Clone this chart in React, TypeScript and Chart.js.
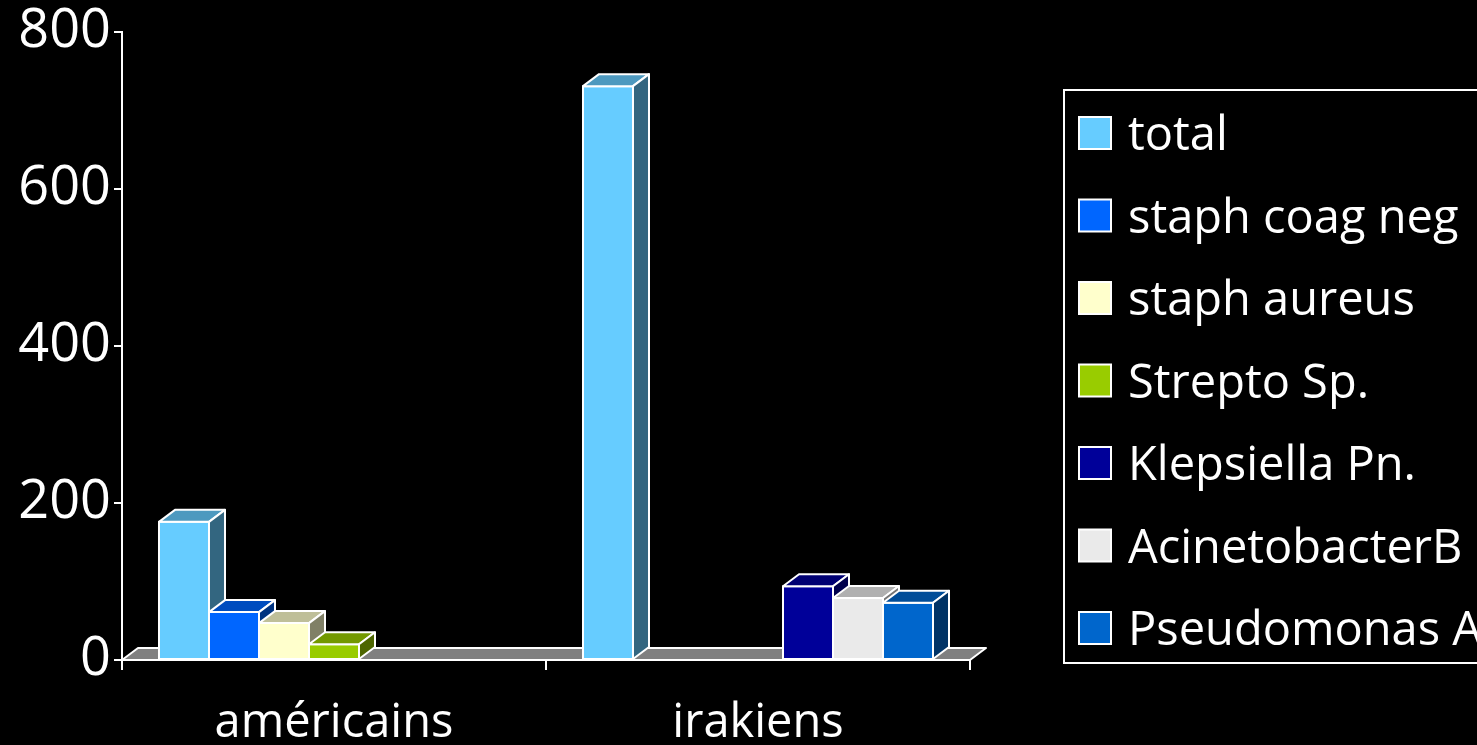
import React, { useEffect, useRef } from 'react';
import { Chart, registerables } from 'chart.js';

Chart.register(...registerables);

const categories = ['américains', 'irakiens'];
const seriesNames = ['total', 'staph coag neg', 'staph aureus', 'Strepto Sp.', 'Klepsiella Pn.', 'AcinetobacterB', 'Pseudomonas A.'];
const totalValues = [176, 731];
const staphCoagNegValues = [61, null];
const staphAureusValues = [47, null];
const streptoValues = [20, null];
const klepsiellaValues = [null, 94];
const acinetobacterValues = [null, 79];
const pseudomonasValues = [null, 73];
const yMax = 800;
const yStep = 200;

const seriesColors = ['#66CCFF', '#0066FF', '#FFFFCC', '#99CC00', '#000099', '#EAEAEA', '#0066CC'];
const seriesValues = [totalValues, staphCoagNegValues, staphAureusValues, streptoValues, klepsiellaValues, acinetobacterValues, pseudomonasValues];

const FONT = "'Open Sans', 'DejaVu Sans', sans-serif";
const DX = 16;
const DY = -12;

function shade(hex: string, f: number): string {
  const n = parseInt(hex.slice(1), 16);
  const r = Math.round(((n >> 16) & 255) * f);
  const g = Math.round(((n >> 8) & 255) * f);
  const b = Math.round((n & 255) * f);
  return `rgb(${r},${g},${b})`;
}

const threeDPlugin = {
  id: 'threeD',
  beforeDatasetsDraw(chart: any) {
    const ctx = chart.ctx as CanvasRenderingContext2D;
    const { left, right, bottom } = chart.chartArea;
    ctx.save();
    ctx.lineWidth = 2;
    ctx.strokeStyle = '#ffffff';
    ctx.lineJoin = 'round';
    // floor
    ctx.beginPath();
    ctx.moveTo(left, bottom);
    ctx.lineTo(left + DX, bottom + DY);
    ctx.lineTo(right + DX, bottom + DY);
    ctx.lineTo(right, bottom);
    ctx.closePath();
    ctx.fillStyle = '#808080';
    ctx.fill();
    ctx.stroke();

    const bars: any[] = [];
    chart.data.datasets.forEach((ds: any, di: number) => {
      const meta = chart.getDatasetMeta(di);
      meta.data.forEach((el: any, i: number) => {
        const v = ds.data[i];
        if (v == null) return;
        const p = el.getProps(['x', 'y', 'base', 'width'], true);
        bars.push({ x0: p.x - p.width / 2, x1: p.x + p.width / 2, top: p.y, base: p.base, color: ds.backgroundColor });
      });
    });
    bars.sort((a, b) => a.x0 - b.x0);
    for (const b of bars) {
      // front
      ctx.beginPath();
      ctx.rect(b.x0, b.top, b.x1 - b.x0, b.base - b.top);
      ctx.fillStyle = b.color;
      ctx.fill();
      ctx.stroke();
      // top
      ctx.beginPath();
      ctx.moveTo(b.x0, b.top);
      ctx.lineTo(b.x0 + DX, b.top + DY);
      ctx.lineTo(b.x1 + DX, b.top + DY);
      ctx.lineTo(b.x1, b.top);
      ctx.closePath();
      ctx.fillStyle = shade(b.color, 0.75);
      ctx.fill();
      ctx.stroke();
      // side
      ctx.beginPath();
      ctx.moveTo(b.x1, b.top);
      ctx.lineTo(b.x1 + DX, b.top + DY);
      ctx.lineTo(b.x1 + DX, b.base + DY);
      ctx.lineTo(b.x1, b.base);
      ctx.closePath();
      ctx.fillStyle = shade(b.color, 0.5);
      ctx.fill();
      ctx.stroke();
    }
    ctx.restore();
    return false;
  },
  afterDraw(chart: any) {
    const ctx = chart.ctx as CanvasRenderingContext2D;
    ctx.save();
    ctx.lineWidth = 2;
    ctx.strokeStyle = '#ffffff';
    ctx.strokeRect(1064, 90, 440, 573);
    ctx.font = `47px ${FONT}`;
    ctx.textBaseline = 'middle';
    ctx.textAlign = 'left';
    chart.data.datasets.forEach((ds: any, i: number) => {
      const cy = 133 + i * 82.5;
      ctx.fillStyle = ds.backgroundColor;
      ctx.fillRect(1079, cy - 16, 32, 32);
      ctx.strokeRect(1079, cy - 16, 32, 32);
      ctx.fillStyle = '#ffffff';
      ctx.fillText(ds.label, 1128, cy + 4);
    });
    ctx.restore();
  },
};

export default function App() {
  const ref = useRef<HTMLCanvasElement>(null);
  useEffect(() => {
    if (!ref.current) return;
    const chart = new Chart(ref.current, {
      type: 'bar',
      data: {
        labels: categories,
        datasets: seriesNames.map((name, i) => ({
          label: name,
          data: seriesValues[i],
          backgroundColor: seriesColors[i],
        })),
      },
      options: {
        animation: false,
        responsive: false,
        maintainAspectRatio: false,
        layout: { padding: { top: 32, right: 507, left: 0, bottom: 0 } },
        datasets: { bar: { categoryPercentage: 0.8255, barPercentage: 1 } },
        plugins: { legend: { display: false }, tooltip: { enabled: false } },
        scales: {
          x: {
            offset: true,
            grid: { offset: true, drawOnChartArea: false, drawTicks: true, tickLength: 10, color: '#ffffff', lineWidth: 2 },
            border: { display: false },
            ticks: { color: '#ffffff', font: { family: FONT, size: 47 }, padding: 25 },
            afterFit: (s: any) => { s.height = 85; },
          },
          y: {
            min: 0,
            max: yMax,
            grid: { drawOnChartArea: false, drawTicks: true, tickLength: 8, color: '#ffffff', lineWidth: 2 },
            border: { display: true, color: '#ffffff', width: 2 },
            ticks: { stepSize: yStep, color: '#ffffff', font: { family: FONT, size: 54, lineHeight: 1 }, padding: 3 },
            afterFit: (s: any) => { s.width = 122; },
          },
        },
      },
      plugins: [threeDPlugin],
    } as any);
    return () => chart.destroy();
  }, []);
  return (
    <div style={{ position: 'fixed', left: 0, top: 0, width: 1477, height: 745, background: '#000' }}>
      <canvas ref={ref} width={1477} height={745} style={{ display: 'block' }} />
    </div>
  );
}
